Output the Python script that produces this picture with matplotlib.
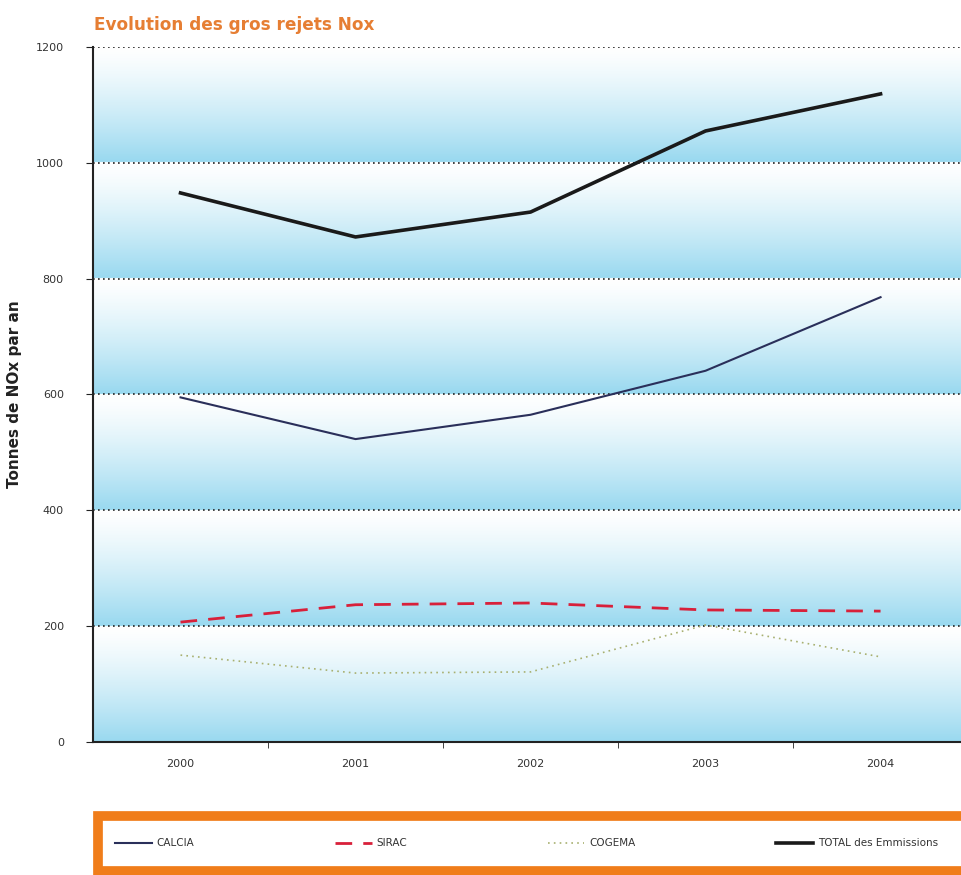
import matplotlib
matplotlib.use("Agg")
import matplotlib.pyplot as plt
import numpy as np
from matplotlib.patches import Rectangle

years = ["2000", "2001", "2002", "2003", "2004"]
calcia = [595, 523, 565, 641, 768]
sirac = [207, 237, 240, 228, 226]
cogema = [150, 119, 121, 202, 147]
total = [948, 872, 915, 1055, 1119]
yticks = [0, 200, 400, 600, 800, 1000, 1200]

fig = plt.figure(figsize=(9.62, 8.75), dpi=100)
ax = fig.add_axes([0.0967, 0.152, 0.9096, 0.7943])

# background gradient bands (white at top of each band, blue at bottom)
n = 100
top = np.array([1.0, 1.0, 1.0])
bot = np.array([0.60, 0.85, 0.94])
t = np.linspace(0, 1, n)[:, None] ** 1.3
band = t * bot + (1 - t) * top
img = np.vstack([band] * 6)[:, None, :]
ax.imshow(img, extent=[-0.5, 4.5, 0, 1200], aspect="auto", zorder=0, interpolation="bilinear")

x = np.arange(len(years))
ax.plot(x, calcia, color="#2a2f5a", lw=1.5, label="CALCIA", zorder=3)
ax.plot(x, sirac, color="#d8203a", lw=2, ls=(0, (6, 4)), label="SIRAC", zorder=3)
ax.plot(x, cogema, color="#a8b070", lw=1.2, ls=(0, (1, 2.5)), label="COGEMA", zorder=3)
ax.plot(x, total, color="#1a1a1a", lw=2.6, label="TOTAL des Emmissions", zorder=3)

for yv in yticks[1:]:
    ax.axhline(yv, color="#222222", lw=1.2, ls=(0, (1, 2)), zorder=2)

ax.set_xlim(-0.5, 4.5)
ax.set_ylim(0, 1200)
ax.set_yticks(yticks)
ax.set_yticklabels([str(v) for v in yticks], fontsize=8, color="#333333")
ax.set_xticks(x)
ax.set_xticklabels(years, fontsize=8, color="#333333")
ax.set_xticks(np.arange(0.5, 4.5, 1), minor=True)
ax.tick_params(axis="x", which="major", length=0, pad=12)
ax.tick_params(axis="x", which="minor", length=4, direction="out", color="#222222")
ax.tick_params(axis="y", length=5, direction="out", color="#222222", pad=16)
for s in ["top", "right"]:
    ax.spines[s].set_visible(False)
ax.spines["left"].set_color("#222222")
ax.spines["left"].set_linewidth(1.5)
ax.spines["bottom"].set_color("#222222")
ax.spines["bottom"].set_linewidth(1.5)

ax.set_ylabel("Tonnes de NOx par an", fontsize=11, fontweight="bold", color="#222222", labelpad=10)

fig.text(0.098, 0.972, "Evolution des gros rejets Nox", color="#e67e33", fontsize=12.2,
         fontweight="bold", ha="left", va="center")

# legend box
rect = Rectangle((0.102, 0.005), 0.95, 0.062, transform=fig.transFigure, facecolor="white",
                 edgecolor="#f07d1a", lw=7, zorder=1)
fig.patches.append(rect)
leg = fig.legend(loc="center", bbox_to_anchor=(0.11, 0.006, 0.875, 0.06), mode="expand", ncol=4,
                 frameon=False, fontsize=7.5, handlelength=3.5, handletextpad=0.5)
for txt in leg.get_texts():
    txt.set_color("#333333")

fig.savefig("out.png", dpi=100)
